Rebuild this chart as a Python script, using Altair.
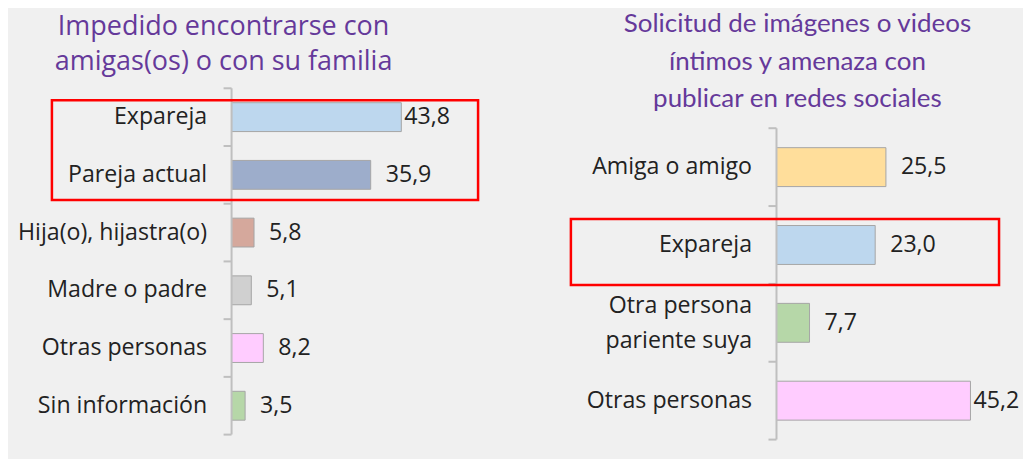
import altair as alt
import pandas as pd

# ---------------- data ----------------
left_title = ["Impedido encontrarse con", "amigas(os) o con su familia"]
left_cats = ["Expareja", "Pareja actual", "Hija(o), hijastra(o)", "Madre o padre",
             "Otras personas", "Sin información"]
left_vals = [43.8, 35.9, 5.8, 5.1, 8.2, 3.5]
left_colors = ["#BDD7EE", "#9DADCB", "#D5A89C", "#D0D0D0", "#FFCCFF", "#B6D7A8"]

right_title = ["Solicitud de imágenes o videos", "íntimos y amenaza con",
               "publicar en redes sociales"]
right_cats = ["Amiga o amigo", "Expareja", "Otra persona\npariente suya", "Otras personas"]
right_vals = [25.5, 23.0, 7.7, 45.2]
right_colors = ["#FFDE9B", "#BDD7EE", "#B6D7A8", "#FFCCFF"]

PURPLE = "#65399a"
TEXT = "#222222"
AXIS = "#BFBFBF"
BG = "#f0f0f0"
FS = 23.2


def panel(cats, vals, colors, title, width, height, top, xmax, box, title_dx, title_dy,
          title_font, title_size, title_lh, title_offset):
    n = len(cats)
    df = pd.DataFrame({"cat": cats, "v": vals, "color": colors})
    bounds = pd.DataFrame({"b": list(range(n + 1))})

    y = alt.Y(
        "cat:N", sort=cats,
        scale=alt.Scale(paddingInner=0.5, paddingOuter=0.25, range=[top, height]),
        axis=alt.Axis(title=None, domain=False, ticks=False, labelFont="Open Sans",
                      labelFontSize=FS, labelColor=TEXT, labelPadding=25,
                      labelLimit=400, labelLineHeight=35,
                      labelOffset={"condition": {"test": "indexof(datum.value, '\\n') >= 0",
                                                 "value": -17},
                                   "value": 0},
                      labelExpr="split(datum.label, '\\n')"),
    )
    x = alt.X("v:Q", scale=alt.Scale(domain=[0, xmax]), axis=None)

    base = alt.Chart(df)
    bars = base.mark_bar(stroke="#A6A6A6", strokeWidth=1).encode(
        x=x, y=y, color=alt.Color("color:N", scale=None))
    txt = base.transform_joinaggregate(vmax="max(v)").transform_calculate(
        lab="replace(format(datum.v, '.1f'), '.', ',')")
    t_far = txt.transform_filter("datum.v < datum.vmax").mark_text(
        align="left", baseline="middle", dx=15, font="Open Sans", fontSize=FS,
        color=TEXT).encode(x=x, y=y, text="lab:N")
    t_near = txt.transform_filter("datum.v >= datum.vmax").mark_text(
        align="left", baseline="middle", dx=3, font="Open Sans", fontSize=FS,
        color=TEXT).encode(x=x, y=y, text="lab:N")
    inner = alt.layer(bars, t_far, t_near)

    ticks = alt.Chart(bounds).mark_rule(color=AXIS, strokeWidth=2).encode(
        y=alt.Y("b:Q", scale=alt.Scale(domain=[0, n], nice=False, range=[top, height]),
                axis=None),
        x=alt.value(-8), x2=alt.value(0))
    vline = alt.Chart(pd.DataFrame({"a": [0]})).mark_rule(
        color=AXIS, strokeWidth=2).encode(
        x=alt.value(0), y=alt.value(top), y2=alt.value(height))
    hbox = alt.Chart(pd.DataFrame({"a": [0]})).mark_rect(
        fillOpacity=0, stroke="#FF0000", strokeWidth=2.5).encode(
        x=alt.value(box[0]), x2=alt.value(box[1]),
        y=alt.value(box[2]), y2=alt.value(box[3]))

    return alt.layer(inner, ticks, vline, hbox).resolve_scale(y="independent").properties(
        width=width, height=height,
        title=alt.TitleParams(text=title, anchor="start", frame="group", align="center",
                              dx=title_dx, dy=title_dy, font=title_font,
                              fontSize=title_size, fontWeight="normal", color=PURPLE,
                              lineHeight=title_lh, offset=title_offset),
    )


left = panel(left_cats, left_vals, left_colors, left_title, 233, 347, 0, 60,
             (-180, 247, 12, 112), -8, 0, "Open Sans", 27, 35, 11)
right = panel(right_cats, right_vals, right_colors, right_title, 215, 352, 40, 50,
              (-206, 223, 131, 197), 21, 36, "Lato", 26, 37.5, 12)

chart = alt.hconcat(left, right, spacing=89).properties(
    background=BG, padding={"left": 9, "top": 3, "right": 3, "bottom": 18}
).configure_view(stroke=None)

chart.save("out.html", embed_options={"renderer": "svg", "actions": False})
